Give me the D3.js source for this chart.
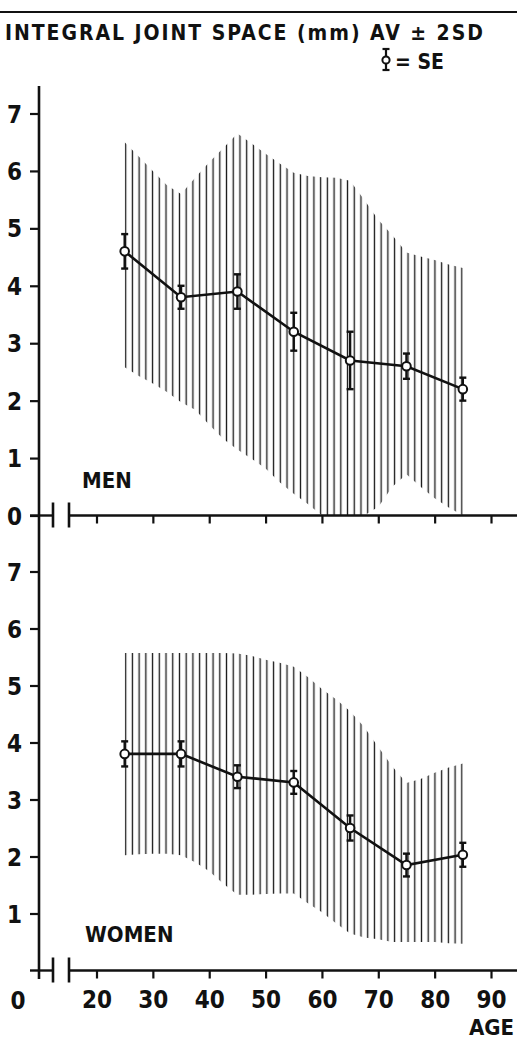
<!DOCTYPE html>
<html>
<head>
<meta charset="utf-8">
<script src="https://cdn.jsdelivr.net/npm/d3@7"></script>
<style>
  body { margin: 0; background: #fff; }
  svg { display: block; }
  text { font-family: "DejaVu Sans Condensed", "DejaVu Sans", sans-serif; font-stretch: condensed; font-weight: bold; fill: #111; }
</style>
</head>
<body>
<svg width="517" height="1042"></svg>
<script>
// group means (age decades) and standard errors
const ages = [25, 35, 45, 55, 65, 75, 85];
const menMean = [4.6, 3.8, 3.9, 3.2, 2.7, 2.6, 2.2];
const menSE = [0.3, 0.2, 0.3, 0.33, 0.5, 0.22, 0.2];
const womenMean = [3.8, 3.8, 3.4, 3.3, 2.5, 1.85, 2.03];
const womenSE = [0.22, 0.22, 0.2, 0.2, 0.22, 0.2, 0.21];

// +-2SD envelope, read every 2.5 years
const bandAges = [25, 27.5, 30, 32.5, 35, 37.5, 40, 42.5, 45, 47.5, 50, 52.5, 55,
                  57.5, 60, 62.5, 65, 67.5, 70, 72.5, 75, 77.5, 80, 82.5, 85];
const menUpper = [6.5, 6.25, 6.0, 5.75, 5.6, 5.88, 6.15, 6.4, 6.65, 6.48, 6.3, 6.13, 5.97,
                  5.91, 5.89, 5.88, 5.83, 5.5, 5.15, 4.88, 4.58, 4.51, 4.45, 4.37, 4.31];
const menLower = [2.58, 2.43, 2.3, 2.15, 1.97, 1.84, 1.58, 1.33, 1.15, 0.99, 0.82, 0.58, 0.38,
                  0.2, 0, 0, 0, 0, 0.15, 0.5, 0.72, 0.5, 0.3, 0.14, 0];
const womenUpper = [5.57, 5.57, 5.57, 5.57, 5.57, 5.57, 5.57, 5.57, 5.56, 5.52, 5.45, 5.4, 5.33,
                    5.15, 4.94, 4.76, 4.55, 4.27, 3.92, 3.58, 3.29, 3.36, 3.47, 3.56, 3.63];
const womenLower = [2.02, 2.04, 2.05, 2.05, 2.02, 1.9, 1.74, 1.52, 1.33, 1.33, 1.34, 1.35, 1.35,
                    1.18, 1.02, 0.83, 0.65, 0.58, 0.55, 0.5, 0.5, 0.5, 0.5, 0.48, 0.47];

const xTicks = [20, 30, 40, 50, 60, 70, 80, 90];
const menYTicks = [0, 1, 2, 3, 4, 5, 6, 7];
const womenYTicks = [1, 2, 3, 4, 5, 6, 7];

var svg = d3.select("svg");
const axisX = 39;

var x = d3.scaleLinear().domain([20, 90]).range([96.5, 491]);
var yMen = d3.scaleLinear().domain([0, 7]).range([515.5, 113.5]);
var yWomen = d3.scaleLinear().domain([0, 7]).range([970.5, 571.5]);

// hatch pattern: vertical lines, one on each end of the band
const sp = (x(85) - x(25) - 2) / 50;
svg.append("defs").append("pattern")
    .attr("id", "hatch")
    .attr("patternUnits", "userSpaceOnUse")
    .attr("x", x(25) + 1 - sp / 2)
    .attr("y", 0)
    .attr("width", sp)
    .attr("height", 10)
  .append("line")
    .attr("x1", sp / 2).attr("x2", sp / 2)
    .attr("y1", 0).attr("y2", 10)
    .attr("stroke", "#1a1a1a")
    .attr("stroke-width", 1.35);

// top rule
svg.append("line")
  .attr("x1", 0).attr("x2", 517).attr("y1", 12).attr("y2", 12)
  .attr("stroke", "#111").attr("stroke-width", 2.2);

// title + legend
svg.append("text")
  .attr("x", 5).attr("y", 40)
  .attr("textLength", 478)
  .attr("lengthAdjust", "spacing")
  .style("font-size", "21px")
  .text("INTEGRAL JOINT SPACE (mm) AV ± 2SD");

const lg = svg.append("g").attr("transform", "translate(386,0)");
lg.append("line").attr("x1", 0).attr("x2", 0).attr("y1", 49).attr("y2", 70)
  .attr("stroke", "#111").attr("stroke-width", 2.2);
lg.selectAll(".cap").data([49, 70]).enter().append("line")
  .attr("x1", -3.5).attr("x2", 3.5).attr("y1", d => d).attr("y2", d => d)
  .attr("stroke", "#111").attr("stroke-width", 2.2);
lg.append("circle").attr("cx", 0).attr("cy", 60).attr("r", 3.6)
  .attr("fill", "#fff").attr("stroke", "#111").attr("stroke-width", 2);
svg.append("text").attr("x", 395).attr("y", 69)
  .style("font-size", "21px").text("= SE");

// continuous y axis line
svg.append("line")
  .attr("x1", axisX).attr("x2", axisX).attr("y1", 86).attr("y2", 979)
  .attr("stroke", "#111").attr("stroke-width", 2.6);

function panel(y, mean, se, upper, lower, yTicks, label, labelX, labelY, showXLabels) {
  const g = svg.append("g");

  // +-2SD hatched band
  const area = d3.area()
    .x((d, i) => x(bandAges[i]))
    .y0((d, i) => y(lower[i]))
    .y1(d => y(d));
  g.append("path")
    .datum(upper)
    .attr("d", area)
    .attr("fill", "url(#hatch)");

  // y ticks
  const ya = g.append("g")
    .attr("transform", `translate(${axisX},0)`)
    .call(d3.axisLeft(y).tickValues(yTicks).tickSize(9).tickPadding(8).tickFormat(d3.format("d")));
  ya.select(".domain").remove();
  ya.selectAll(".tick line").attr("stroke", "#111").attr("stroke-width", 2.2);
  ya.selectAll(".tick text").attr("x", -17).attr("dy", "0.36em")
    .style("font-size", "24px").style("font-family", null);

  // x axis with break
  const y0 = y(0);
  const xa = g.append("g")
    .attr("transform", `translate(0,${y0})`)
    .call(d3.axisBottom(x).tickValues(xTicks).tickSize(8).tickPadding(12)
      .tickFormat(showXLabels ? d3.format("d") : ""));
  xa.select(".domain").remove();
  xa.selectAll(".tick line").attr("stroke", "#111").attr("stroke-width", 2.2);
  xa.selectAll(".tick text").style("font-size", "24px").style("font-family", null);

  g.append("line").attr("x1", axisX - 9).attr("x2", 53).attr("y1", y0).attr("y2", y0)
    .attr("stroke", "#111").attr("stroke-width", 2.4);
  g.append("line").attr("x1", 69).attr("x2", 517).attr("y1", y0).attr("y2", y0)
    .attr("stroke", "#111").attr("stroke-width", 2.4);
  g.selectAll(".brk").data([53, 69]).enter().append("line")
    .attr("x1", d => d).attr("x2", d => d)
    .attr("y1", y0 - 13).attr("y2", y0 + 12)
    .attr("stroke", "#111").attr("stroke-width", 2.6);

  // mean line
  const line = d3.line().x((d, i) => x(ages[i])).y(d => y(d));
  g.append("path").datum(mean)
    .attr("d", line)
    .attr("fill", "none")
    .attr("stroke", "#111")
    .attr("stroke-width", 2.6);

  // SE bars
  const eb = g.selectAll(".se").data(mean).enter().append("g");
  eb.append("line")
    .attr("x1", (d, i) => x(ages[i])).attr("x2", (d, i) => x(ages[i]))
    .attr("y1", (d, i) => y(d + se[i])).attr("y2", (d, i) => y(d - se[i]))
    .attr("stroke", "#111").attr("stroke-width", 2.4);
  [1, -1].forEach(s => {
    eb.append("line")
      .attr("x1", (d, i) => x(ages[i]) - 3.5).attr("x2", (d, i) => x(ages[i]) + 3.5)
      .attr("y1", (d, i) => y(d + s * se[i])).attr("y2", (d, i) => y(d + s * se[i]))
      .attr("stroke", "#111").attr("stroke-width", 2.4);
  });
  eb.append("circle")
    .attr("cx", (d, i) => x(ages[i]))
    .attr("cy", d => y(d))
    .attr("r", 4.3)
    .attr("fill", "#fff")
    .attr("stroke", "#111")
    .attr("stroke-width", 2);

  svg.append("text").attr("x", labelX).attr("y", labelY)
    .style("font-size", "22px").text(label);
}

panel(yMen, menMean, menSE, menUpper, menLower, menYTicks, "MEN", 82, 488, false);
panel(yWomen, womenMean, womenSE, womenUpper, womenLower, womenYTicks, "WOMEN", 85, 942, true);

// "0" origin label and axis title
svg.append("text").attr("x", 18).attr("y", 1009).attr("text-anchor", "middle")
  .style("font-size", "24px").text("0");
svg.append("text").attr("x", 514).attr("y", 1035).attr("text-anchor", "end")
  .style("font-size", "22px").text("AGE");
</script>
</body>
</html>
